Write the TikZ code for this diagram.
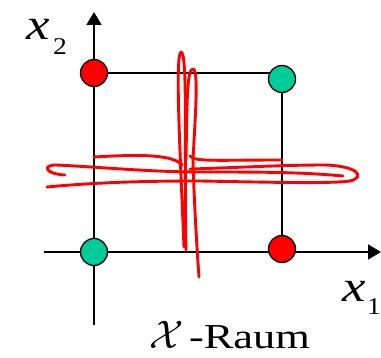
\documentclass[tikz,border=0pt]{standalone}
\usepackage{fontspec}
\setmainfont{Liberation Serif}
\usetikzlibrary{arrows.meta}
\definecolor{ptgreen}{RGB}{0,204,153}
\definecolor{ptred}{RGB}{255,0,0}
\begin{document}
\begin{tikzpicture}[x=1pt,y=-1pt,
  axis/.style={line width=1.8pt,-{Triangle[length=13pt,width=15pt]}},
  frame/.style={line width=1.8pt},
  dot/.style={circle,draw=black,line width=1.3pt,minimum size=27pt,inner sep=0pt},
  scribble/.style={draw=ptred,line width=2.9pt,line cap=round,line join=round},
  lbl/.style={inner sep=0pt,outer sep=0pt}]
\useasboundingbox (0,0) rectangle (381,358);
% coordinates
\coordinate (yb) at (94,325);
\coordinate (yt) at (94,12);
\coordinate (xl) at (44,252);
\coordinate (xr) at (381,252);
\coordinate (tl) at (94,73);
\coordinate (tr) at (282,73);
\coordinate (br) at (282,252);
% axes and frame
\draw[axis] (yb) -- (yt);
\draw[axis] (xl) -- (xr);
\draw[frame] (tl) -- (tr) -- (br);
% red scribbles
\path[scribble] (184,247) .. controls (180,150) and (175,55) .. (181,52) .. controls (188,52) and (184,150) .. (186,250);
\path[scribble] (186,160) .. controls (187,100) and (187,69) .. (193,69) .. controls (199,69) and (195,120) .. (193,160) .. controls (194,200) and (197,250) .. (199,277);
\path[scribble] (94,157) .. controls (130,155) and (172,153) .. (182,165);
\path[scribble] (190,156) .. controls (195,162) and (215,160) .. (282,160);
\path[scribble] (65,175) .. controls (45,174) and (42,165) .. (56,165) .. controls (100,167) and (150,172) .. (200,172) .. controls (260,172) and (300,172) .. (343,176);
\path[scribble] (47,187) .. controls (100,182) and (150,181) .. (200,181) .. controls (260,182) and (330,184) .. (350,181) .. controls (366,177) and (358,166) .. (325,165) .. controls (280,165) and (230,168) .. (190,169);
% points
\node[dot,fill=ptred]   (p01) at (94,73)  {};
\node[dot,fill=ptgreen] (p11) at (282,79) {};
\node[dot,fill=ptgreen] (p00) at (94,252) {};
\node[dot,fill=ptred]   (p10) at (282,249) {};
% labels
\node[lbl,anchor=base west] (x2) at (27,40) {\scalebox{1.2}[1]{\fontsize{44}{44}\selectfont\itshape x}};
\node[lbl,anchor=base west] (x2s) at (53,55) {\scalebox{1.15}[1]{\fontsize{24}{24}\selectfont 2}};
\node[lbl,anchor=base west] (x1) at (342,302) {\scalebox{1.2}[1]{\fontsize{44}{44}\selectfont\itshape x}};
\node[lbl,anchor=base west] (x1s) at (367,315) {\scalebox{1.15}[1]{\fontsize{24}{24}\selectfont 1}};
\node[lbl,anchor=base west] (calx) at (149,349) {\scalebox{1.6}{\Huge$\mathcal{X}$}};
\node[lbl,anchor=base west] (raum) at (189,349) {\scalebox{1.27}[1]{\fontsize{35}{35}\selectfont -Raum}};
\end{tikzpicture}
\end{document}
